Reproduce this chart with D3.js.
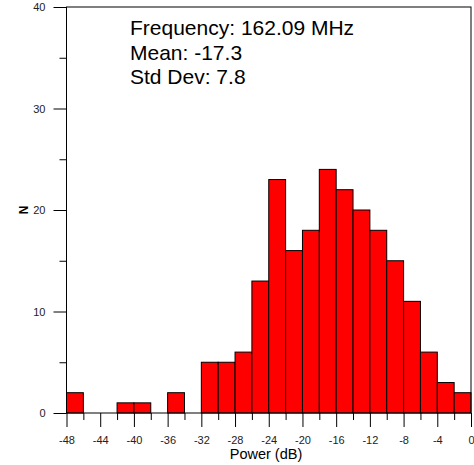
<!DOCTYPE html>
<meta charset="utf-8" />
<style>
  body { margin: 0; background: #fff; }
  text { font-family: Arial, "Liberation Sans", sans-serif; }
  .tick text { font-size: 11px; fill: #222; }
  .axis path { display: none; }
  .tick line { stroke: #000; }
</style>
<svg width="474" height="465"></svg>
<script src="https://d3js.org/d3.v7.min.js"></script>
<script>
  // histogram bins (left edge, dB) and counts
  var binStart = [-48, -46, -44, -42, -40, -38, -36, -34, -32, -30, -28, -26, -24, -22, -20, -18, -16, -14, -12, -10, -8, -6, -4, -2];
  var counts   = [  2,   0,   0,   1,   1,   0,   2,   0,   5,   5,   6,  13,  23,  16,  18,  24,  22,  20,  18,  15,  11,   6,   3,   2];
  var binWidth = 2;

  var xMajor = [-48, -44, -40, -36, -32, -28, -24, -20, -16, -12, -8, -4, 0];
  var xMinor = [-46, -42, -38, -34, -30, -26, -22, -18, -14, -10, -6, -2];
  var yMajor = [0, 10, 20, 30, 40];
  var yMinor = [5, 15, 25, 35];

  var stats = ["Frequency: 162.09 MHz", "Mean: -17.3", "Std Dev: 7.8"];

  var svg = d3.select("svg");
  var x0 = 66.5, x1 = 471, yTop = 7, yBot = 413;

  var x = d3.scaleLinear().domain([-48, 0]).range([x0, x1]);
  var y = d3.scaleLinear().domain([0, 40]).range([yBot, yTop]);

  // bars
  svg.append("g")
    .selectAll("rect")
    .data(binStart.map((b, i) => ({ b: b, n: counts[i] })).filter(d => d.n > 0))
    .enter()
    .append("rect")
    .attr("x", d => x(d.b))
    .attr("width", d => x(d.b + binWidth) - x(d.b))
    .attr("y", d => y(d.n))
    .attr("height", d => y(0) - y(d.n))
    .attr("fill", "#ff0000")
    .attr("stroke", "#000")
    .attr("stroke-width", 1);

  // frame
  svg.append("rect")
    .attr("x", x0).attr("y", yTop)
    .attr("width", x1 - x0).attr("height", yBot - yTop)
    .attr("fill", "none").attr("stroke", "#000");

  var fmt = d => String(d);

  // y axis
  svg.append("g").attr("class", "axis")
    .attr("transform", "translate(" + x0 + ",0)")
    .call(d3.axisLeft(y).tickValues(yMajor).tickSize(13).tickPadding(8).tickFormat(fmt));
  svg.append("g").attr("class", "axis")
    .attr("transform", "translate(" + x0 + ",0)")
    .call(d3.axisLeft(y).tickValues(yMinor).tickSize(7).tickFormat(""));

  // x axis
  svg.append("g").attr("class", "axis")
    .attr("transform", "translate(0," + yBot + ")")
    .call(d3.axisBottom(x).tickValues(xMajor).tickSize(14).tickPadding(9).tickFormat(fmt));
  svg.append("g").attr("class", "axis")
    .attr("transform", "translate(0," + yBot + ")")
    .call(d3.axisBottom(x).tickValues(xMinor).tickSize(7).tickFormat(""));

  // axis titles
  svg.append("text")
    .attr("x", 266)
    .attr("y", 459)
    .attr("text-anchor", "middle")
    .style("font-size", "14.5px")
    .text("Power (dB)");

  svg.append("text")
    .attr("transform", "translate(28," + y(20) + ") rotate(-90)")
    .attr("text-anchor", "middle")
    .style("font-size", "12px")
    .style("font-weight", "bold")
    .text("N");

  // stats box
  svg.append("g")
    .selectAll("text")
    .data(stats)
    .enter()
    .append("text")
    .attr("x", 130)
    .attr("y", (d, i) => 35 + i * 24.5)
    .style("font-size", "21px")
    .text(d => d);
</script>
